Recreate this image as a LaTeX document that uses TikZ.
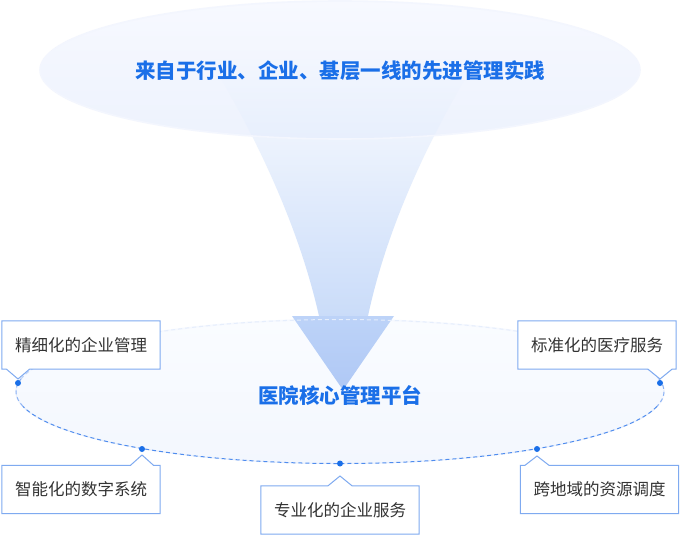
\documentclass[tikz,border=0pt]{standalone}
\usepackage{fontspec}
\setmainfont{Noto Sans CJK SC}
\usetikzlibrary{calc}
\definecolor{titleblue}{HTML}{1A6FE8}
\definecolor{dotblue}{HTML}{1A6FE8}
\definecolor{boxline}{HTML}{7FAAF0}
\definecolor{textgray}{HTML}{333333}
\definecolor{dashA}{HTML}{4F8CEE}
\definecolor{dashB}{HTML}{8DB3F4}
\definecolor{dashC}{HTML}{BFD4F8}
\definecolor{dashD}{HTML}{E6EEFC}
\definecolor{funTop}{HTML}{FCFDFF}
\definecolor{funBot}{HTML}{CADCF9}
\definecolor{funInTop}{HTML}{F2F6FE}
\definecolor{funInBot}{HTML}{CFDFFA}
\definecolor{arrTop}{HTML}{BDD3F8}
\definecolor{arrBot}{HTML}{AFC8F5}
\definecolor{ellTopA}{HTML}{F7F9FF}
\definecolor{ellTopB}{HTML}{EDF2FD}
\definecolor{ellTopRim}{HTML}{F3F6FE}
\definecolor{ellBotA}{HTML}{FAFCFF}
\definecolor{ellBotB}{HTML}{F3F7FE}
\definecolor{ellBotRim}{HTML}{F6F9FF}
\begin{document}
\begin{tikzpicture}[x=1pt,y=-1pt,
  callout/.style={minimum width=158pt, minimum height=48pt, inner sep=0pt, fill=white,
    font=\fontsize{16.5}{20}\selectfont, text=textgray},
  outline/.style={draw=boxline, line width=1pt, line join=miter},
  dashring/.style={line width=1pt, dash pattern=on 4pt off 3pt},
  dotmark/.style={fill=dotblue},
  bigtitle/.style={font=\bfseries\fontsize{20.5}{24}\selectfont, text=titleblue, inner sep=0pt}]
\fill[white] (0,0) rectangle (680,535);
\useasboundingbox (0,0) rectangle (680,535);
\def\funnelpath{(210,60) .. controls (264,150) and (301,236) .. (319,316)
  -- (368,316) .. controls (385,236) and (422,150) .. (476,60) -- cycle}

% bottom platform ellipse
\fill[top color=ellBotA, bottom color=ellBotB] (340,391.5) ellipse [x radius=324, y radius=72];
\draw[ellBotRim, line width=1.6pt] (340,391.5) ellipse [x radius=324, y radius=72];

% funnel
\shade[top color=funTop, bottom color=funBot] \funnelpath;
% arrow head
\shade[top color=arrTop, bottom color=arrBot] (292,316) -- (343,390) -- (394,316) -- cycle;

% top ellipse
\fill[top color=ellTopA, bottom color=ellTopB] (340,70) ellipse [x radius=300, y radius=69];
\begin{scope}
  \clip (340,70) ellipse [x radius=300, y radius=69];
  \shade[top color=funInTop, bottom color=funInBot] \funnelpath;
\end{scope}
\draw[ellTopRim, line width=1.6pt] (340,70) ellipse [x radius=300, y radius=69];

% dashed ring (lower half strong, upper half faint)
\draw[dashring, draw=dashD] (340,391.5) ellipse [x radius=324, y radius=72];
\draw[dashring, draw=dashC] ($(340,391.5)+({324*cos(-25)},{72*sin(-25)})$) arc [start angle=-25, end angle=-10, x radius=324, y radius=72];
\draw[dashring, draw=dashB] ($(340,391.5)+({324*cos(-10)},{72*sin(-10)})$) arc [start angle=-10, end angle=12, x radius=324, y radius=72];
\draw[dashring, draw=dashA] ($(340,391.5)+({324*cos(12)},{72*sin(12)})$) arc [start angle=12, end angle=168, x radius=324, y radius=72];
\draw[dashring, draw=dashB] ($(340,391.5)+({324*cos(168)},{72*sin(168)})$) arc [start angle=168, end angle=190, x radius=324, y radius=72];
\draw[dashring, draw=dashC] ($(340,391.5)+({324*cos(190)},{72*sin(190)})$) arc [start angle=190, end angle=205, x radius=324, y radius=72];

% titles
\node[bigtitle] (top) at (340,71) {来自于行业、企业、基层一线的先进管理实践};
\node[bigtitle] (core) at (340,395) {医院核心管理平台};

% dots on ring
\coordinate (dL) at (18,383);
\coordinate (dR) at (660,383);
\coordinate (dBL) at (142,449);
\coordinate (dB) at (340,463.5);
\coordinate (dBR) at (537,449);

% callout boxes
\node[callout] (b1) at (81,345) {精细化的企业管理};
\node[callout] (b2) at (81,489.5) {智能化的数字系统};
\node[callout] (b3) at (340,510) {专业化的企业服务};
\node[callout] (b4) at (597,345) {标准化的医疗服务};
\node[callout] (b5) at (599.5,489.5) {跨地域的资源调度};

% box 1 (notch down)
\fill[white] ([xshift=-11.5pt]dL |- b1.south) -- ([yshift=4pt]dL) -- ([xshift=11.5pt]dL |- b1.south) -- cycle;
\draw[outline] (b1.north west) -- (b1.north east) -- (b1.south east)
  -- ([xshift=11.5pt]dL |- b1.south) -- ([yshift=4pt]dL) -- ([xshift=-11.5pt]dL |- b1.south)
  -- (b1.south west) -- cycle;
% box 4 (notch down)
\fill[white] ([xshift=-12pt]dR |- b4.south) -- ([yshift=4pt]dR) -- ([xshift=12pt]dR |- b4.south) -- cycle;
\draw[outline] (b4.north west) -- (b4.north east) -- (b4.south east)
  -- ([xshift=12pt]dR |- b4.south) -- ([yshift=4pt]dR) -- ([xshift=-12pt]dR |- b4.south)
  -- (b4.south west) -- cycle;
% box 2 (notch up)
\fill[white] ([xshift=-11.5pt]dBL |- b2.north) -- ([yshift=-6pt]dBL) -- ([xshift=11.5pt]dBL |- b2.north) -- cycle;
\draw[outline] (b2.south west) -- (b2.south east) -- (b2.north east)
  -- ([xshift=11.5pt]dBL |- b2.north) -- ([yshift=-6pt]dBL) -- ([xshift=-11.5pt]dBL |- b2.north)
  -- (b2.north west) -- cycle;
% box 3 (notch up)
\fill[white] ([xshift=-12pt]dB |- b3.north) -- ([yshift=-12.5pt]dB) -- ([xshift=12pt]dB |- b3.north) -- cycle;
\draw[outline] (b3.south west) -- (b3.south east) -- (b3.north east)
  -- ([xshift=12pt]dB |- b3.north) -- ([yshift=-12.5pt]dB) -- ([xshift=-12pt]dB |- b3.north)
  -- (b3.north west) -- cycle;
% box 5 (notch up)
\fill[white] ([xshift=-12pt]dBR |- b5.north) -- ([yshift=-7pt]dBR) -- ([xshift=12pt]dBR |- b5.north) -- cycle;
\draw[outline] (b5.south west) -- (b5.south east) -- (b5.north east)
  -- ([xshift=12pt]dBR |- b5.north) -- ([yshift=-7pt]dBR) -- ([xshift=-12pt]dBR |- b5.north)
  -- (b5.north west) -- cycle;

% dots
\foreach \d in {dL,dR,dBL,dB,dBR} \fill[dotmark] (\d) circle [radius=3];
\end{tikzpicture}
\end{document}
